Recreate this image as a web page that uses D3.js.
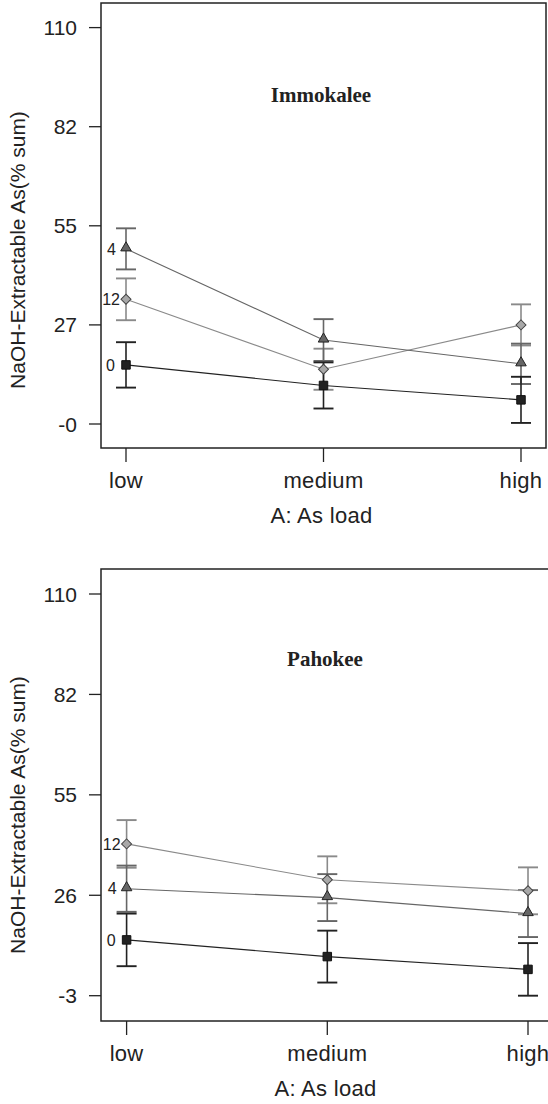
<!DOCTYPE html>
<html>
<head>
<meta charset="utf-8">
<script src="https://cdn.jsdelivr.net/npm/d3@7"></script>
<style>
  body { margin: 0; background: #fff; }
  svg { display: block; }
  text { font-family: "Liberation Sans", Arial, sans-serif; fill: #222; }
</style>
</head>
<body>
<svg id="main"></svg>
<script>
// categories on the x axis
var categories = ["low", "medium", "high"];

// Immokalee: means and error half-widths per Fe level (0, 4, 12)
var immMean0 = [16.4, 10.7, 6.7];
var immErr0 = [6.3, 6.4, 6.4];
var immMean4 = [48.6, 23.3, 16.7];
var immErr4 = [5.7, 5.8, 5.6];
var immMean12 = [34.6, 15.2, 27.5];
var immErr12 = [5.8, 5.7, 5.7];

// Pahokee
var pahMean0 = [12.7, 8.0, 4.4];
var pahErr0 = [7.4, 7.3, 7.4];
var pahMean4 = [27.1, 24.6, 20.1];
var pahErr4 = [6.5, 6.6, 6.6];
var pahMean12 = [39.7, 29.6, 26.5];
var pahErr12 = [6.7, 6.6, 6.6];

// tick values and their printed labels
var immTicks = [0, 27.5, 55, 82.5, 110];
var immTickLabels = ["-0", "27", "55", "82", "110"];
var pahTicks = [-3, 25.25, 53.5, 81.75, 110];
var pahTickLabels = ["-3", "26", "55", "82", "110"];

var W = 548, H = 1104;
var svg = d3.select("#main").attr("width", W).attr("height", H);

// look of each series (diamond = square turned 45 degrees)
var styles = {
  "0":  { shape: d3.symbolSquare,   size: 72, rot: 0,  fill: "#222", stroke: "#111", line: "#222", bar: "#222", dx: 11 },
  "4":  { shape: d3.symbolTriangle, size: 48, rot: 0,  fill: "#666", stroke: "#222", line: "#666", bar: "#666", dx: 10 },
  "12": { shape: d3.symbolSquare,   size: 50, rot: 45, fill: "#a8a8a8", stroke: "#444", line: "#8a8a8a", bar: "#8a8a8a", dx: 6 }
};

function drawPanel(p) {
  var g = svg.append("g");
  var x = d3.scalePoint().domain(categories).range([p.x0, p.x1]);
  var y = d3.scaleLinear().domain([p.ticks[0], p.ticks[p.ticks.length - 1]]).range([p.yBot, p.yTop]);

  // frame
  g.append("rect")
    .attr("x", p.left).attr("y", p.top)
    .attr("width", p.right - p.left).attr("height", p.bottom - p.top)
    .attr("fill", "none").attr("stroke", "#222").attr("stroke-width", 1.5);

  // y ticks
  var yt = g.append("g");
  yt.selectAll("line").data(p.ticks).enter().append("line")
    .attr("x1", p.left - 12).attr("x2", p.left)
    .attr("y1", function(d) { return y(d); }).attr("y2", function(d) { return y(d); })
    .attr("stroke", "#222").attr("stroke-width", 1.3);
  yt.selectAll("text").data(p.ticks).enter().append("text")
    .attr("x", p.left - 24).attr("y", function(d) { return y(d); })
    .attr("dy", "0.36em").attr("text-anchor", "end")
    .style("font-size", "21px")
    .text(function(d, i) { return p.tickLabels[i]; });

  // x ticks
  var xt = g.append("g");
  xt.selectAll("line").data(categories).enter().append("line")
    .attr("x1", function(d) { return x(d); }).attr("x2", function(d) { return x(d); })
    .attr("y1", p.bottom).attr("y2", p.bottom + 14)
    .attr("stroke", "#222").attr("stroke-width", 1.3);
  xt.selectAll("text").data(categories).enter().append("text")
    .attr("x", function(d) { return x(d); }).attr("y", p.bottom + 40)
    .attr("text-anchor", "middle")
    .style("font-size", "22px").style("letter-spacing", "0.3px")
    .text(function(d) { return d; });

  g.append("text")
    .attr("x", (p.left + p.right) / 2 - 2).attr("y", p.bottom + 75)
    .attr("text-anchor", "middle")
    .style("font-size", "22px").style("letter-spacing", "0.3px")
    .text("A: As load");

  g.append("text")
    .attr("transform", "translate(25," + p.yTitle + ") rotate(-90)")
    .attr("text-anchor", "middle")
    .style("font-size", "21px")
    .text("NaOH-Extractable As(% sum)");

  g.append("text")
    .attr("x", p.titleX).attr("y", p.titleY)
    .attr("text-anchor", "middle")
    .style("font-family", "'Liberation Serif', 'Times New Roman', serif")
    .style("font-weight", "bold").style("font-size", "21px")
    .text(p.title);

  // error bars, lines, markers
  var order = ["12", "4", "0"];
  order.forEach(function(k) {
    var s = p.series[k], st = styles[k];
    var pts = categories.map(function(c, i) { return { c: c, m: s.mean[i], e: s.err[i] }; });
    var eb = g.append("g").attr("stroke", st.bar);
    eb.selectAll(".v").data(pts).enter().append("line")
      .attr("x1", function(d) { return x(d.c); }).attr("x2", function(d) { return x(d.c); })
      .attr("y1", function(d) { return y(d.m - d.e); }).attr("y2", function(d) { return y(d.m + d.e); })
      .attr("stroke-width", 1.6);
    [-1, 1].forEach(function(sg) {
      eb.selectAll(".c" + sg).data(pts).enter().append("line")
        .attr("x1", function(d) { return x(d.c) - 10; }).attr("x2", function(d) { return x(d.c) + 10; })
        .attr("y1", function(d) { return y(d.m + sg * d.e); }).attr("y2", function(d) { return y(d.m + sg * d.e); })
        .attr("stroke-width", 1.9);
    });
  });
  order.forEach(function(k) {
    var s = p.series[k], st = styles[k];
    var line = d3.line().x(function(d, i) { return x(categories[i]); }).y(function(d) { return y(d); });
    g.append("path").datum(s.mean).attr("d", line)
      .attr("fill", "none").attr("stroke", st.line).attr("stroke-width", 1.1);
  });
  order.forEach(function(k) {
    var s = p.series[k], st = styles[k];
    g.append("g").selectAll("path").data(s.mean).enter().append("path")
      .attr("d", d3.symbol().type(st.shape).size(st.size))
      .attr("transform", function(d, i) {
        var yy = y(d) + (k === "4" ? -1 : 0);
        return "translate(" + x(categories[i]) + "," + yy + ") rotate(" + st.rot + ")";
      })
      .attr("fill", st.fill).attr("stroke", st.stroke).attr("stroke-width", 1);
    g.append("text")
      .attr("x", x(categories[0]) - st.dx).attr("y", y(s.mean[0]))
      .attr("dy", "0.36em").attr("text-anchor", "end")
      .style("font-size", "16px")
      .text(k);
  });
}

drawPanel({
  title: "Immokalee", titleX: 321, titleY: 102,
  left: 101, right: 546, top: 3, bottom: 448,
  x0: 126, x1: 521,
  yTop: 27.6, yBot: 424, yTitle: 250,
  ticks: immTicks, tickLabels: immTickLabels,
  series: {
    "0": { mean: immMean0, err: immErr0 },
    "4": { mean: immMean4, err: immErr4 },
    "12": { mean: immMean12, err: immErr12 }
  }
});

drawPanel({
  title: "Pahokee", titleX: 325, titleY: 666,
  left: 101, right: 554, top: 569, bottom: 1021,
  x0: 126.6, x1: 528,
  yTop: 594, yBot: 995.7, yTitle: 815,
  ticks: pahTicks, tickLabels: pahTickLabels,
  series: {
    "0": { mean: pahMean0, err: pahErr0 },
    "4": { mean: pahMean4, err: pahErr4 },
    "12": { mean: pahMean12, err: pahErr12 }
  }
});
</script>
</body>
</html>
